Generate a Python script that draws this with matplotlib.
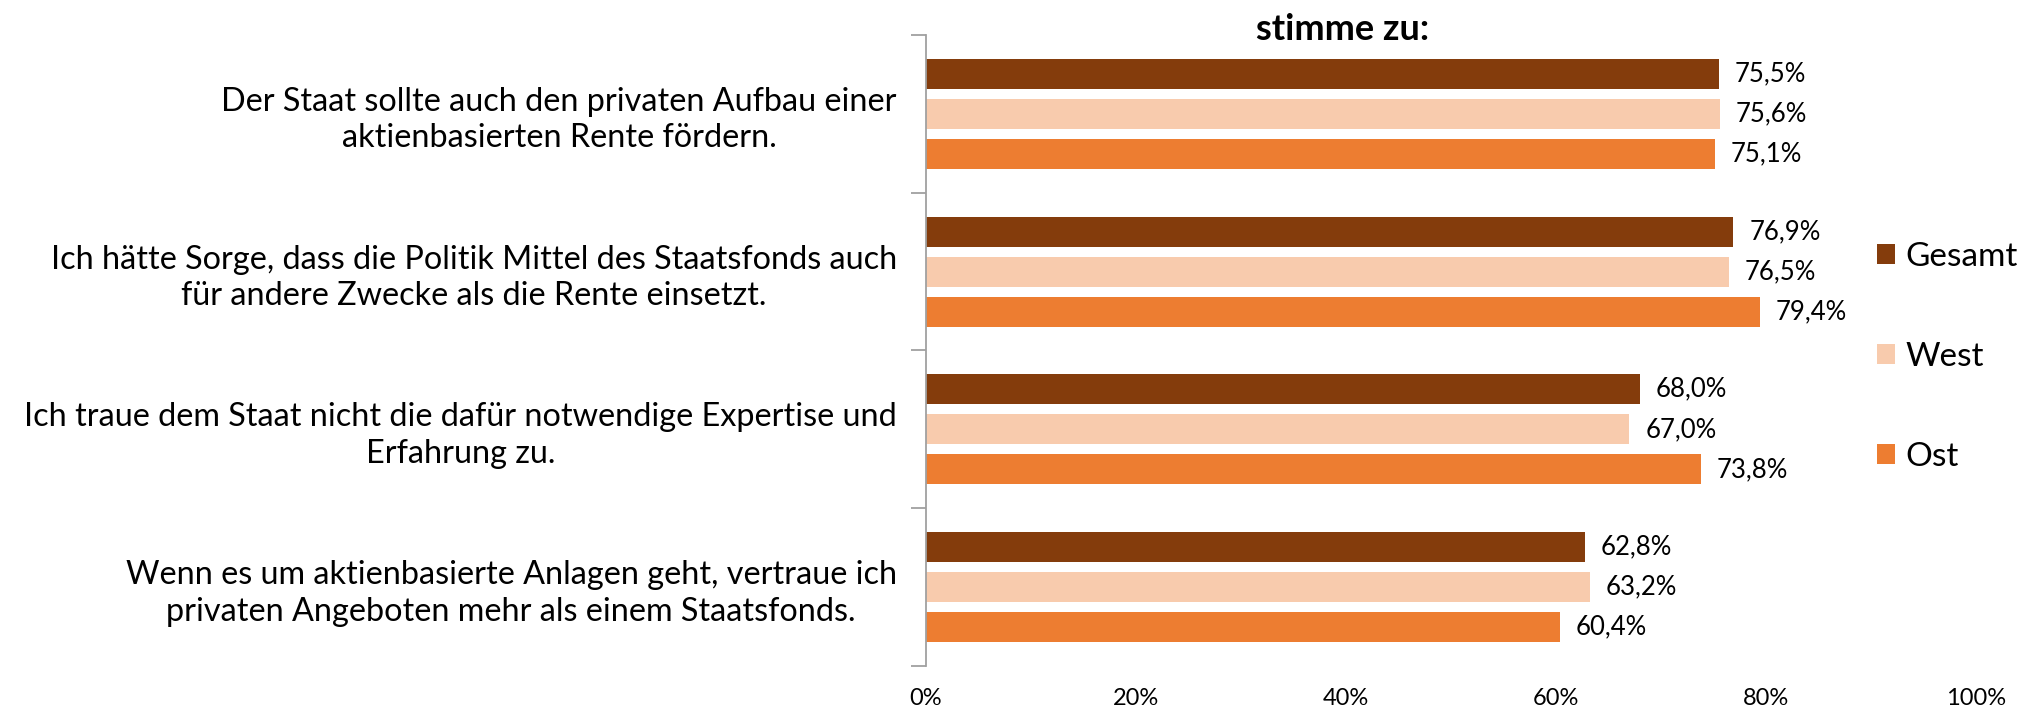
import numpy as np
import matplotlib.pyplot as plt
from matplotlib.patches import Patch

plt.rcParams['font.family'] = ['Lato', 'DejaVu Sans']

# Daten
kategorien = [
    'Der Staat sollte auch den privaten Aufbau einer\naktienbasierten Rente fördern.',
    'Ich hätte Sorge, dass die Politik Mittel des Staatsfonds auch\nfür andere Zwecke als die Rente einsetzt.',
    'Ich traue dem Staat nicht die dafür notwendige Expertise und\nErfahrung zu.',
    'Wenn es um aktienbasierte Anlagen geht, vertraue ich\nprivaten Angeboten mehr als einem Staatsfonds.',
]
serien = ['Gesamt', 'West', 'Ost']
gesamt = [75.5, 76.9, 68.0, 62.8]
west = [75.6, 76.5, 67.0, 63.2]
ost = [75.1, 79.4, 73.8, 60.4]
xticks = [0, 20, 40, 60, 80, 100]

farben = ['#843C0C', '#F8CBAD', '#ED7D31']

fig = plt.figure(figsize=(20.35, 7.07), dpi=100)
ax = fig.add_axes([0.455, 0.058, 0.516, 0.8925])

y = np.arange(len(kategorien)) + 0.5
versatz = [-0.254, 0.0, 0.254]
for werte, off, col in zip([gesamt, west, ost], versatz, farben):
    bars = ax.barh(y + off, werte, height=0.19, color=col)
    for b, v in zip(bars, werte):
        ax.text(v + 1.5, b.get_y() + b.get_height() / 2,
                ('%.1f%%' % v).replace('.', ','),
                va='center', ha='left', fontsize=18.5)

ax.set_xlim(0, 100)
ax.set_ylim(len(kategorien), 0)

ax.set_xticks(xticks)
ax.set_xticklabels(['%d%%' % t for t in xticks], fontsize=17)
ax.tick_params(axis='x', length=0, pad=16)

ax.set_yticks(np.arange(len(kategorien) + 1))
ax.set_yticklabels([])
ax.set_yticks(y, minor=True)
ax.set_yticklabels(kategorien, minor=True, fontsize=23.3, ha='right',
                   multialignment='center', linespacing=1.27)
ax.tick_params(axis='y', which='major', length=11, color='#A0A0A0', width=1.3)
ax.tick_params(axis='y', which='minor', length=0, pad=21)

for s in ['top', 'right', 'bottom']:
    ax.spines[s].set_visible(False)
ax.spines['left'].set_color('#A0A0A0')
ax.spines['left'].set_linewidth(1.3)

fig.text(1343 / 2035, 1 - 29 / 707, 'stimme zu:', ha='center', va='center',
         fontsize=26, fontweight='bold')

handles = [Patch(facecolor=c, label=s) for c, s in zip(farben, serien)]
fig.legend(handles=handles, loc='center left',
           bbox_to_anchor=(1877 / 2035, 1 - 357 / 707),
           frameon=False, fontsize=24, borderpad=0, borderaxespad=0,
           handlelength=0.55, handleheight=0.55, handletextpad=0.3,
           labelspacing=2.1)

fig.savefig('out.png', dpi=100)
